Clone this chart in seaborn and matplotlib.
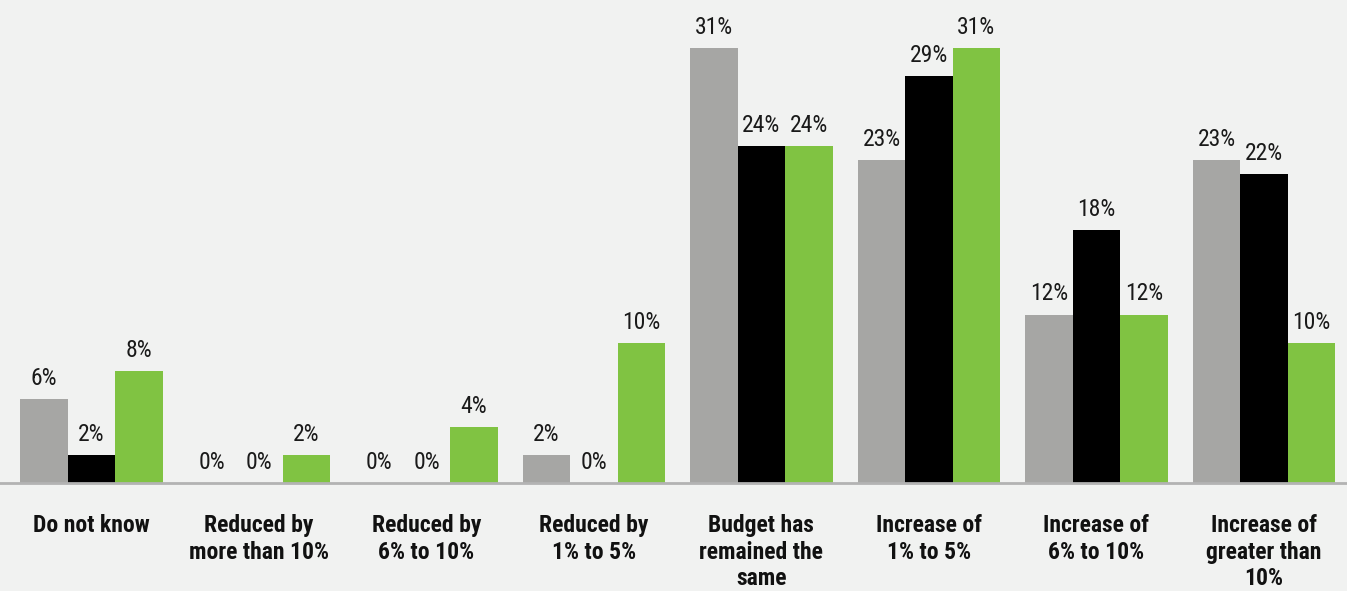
import matplotlib
matplotlib.use("Agg")
import matplotlib.pyplot as plt
import seaborn as sns
import pandas as pd

categories = [
    "Do not know",
    "Reduced by\nmore than 10%",
    "Reduced by\n6% to 10%",
    "Reduced by\n1% to 5%",
    "Budget has\nremained the\nsame",
    "Increase of\n1% to 5%",
    "Increase of\n6% to 10%",
    "Increase of\ngreater than\n10%",
]
series_names = ["Year 1", "Year 2", "Year 3"]
year1 = [6, 0, 0, 2, 31, 23, 12, 23]
year2 = [2, 0, 0, 0, 24, 29, 18, 22]
year3 = [8, 2, 4, 10, 24, 31, 12, 10]
colors = ["#a6a6a4", "#000000", "#80c342"]
bg = "#f1f2f1"

df = pd.DataFrame({
    "category": categories * 3,
    "series": [s for s in series_names for _ in categories],
    "value": year1 + year2 + year3,
})

sns.set_theme(style="white")
plt.rcParams["font.family"] = ["Roboto Condensed", "DejaVu Sans"]

fig = plt.figure(figsize=(13.47, 5.91), dpi=100, facecolor=bg)
ax = fig.add_axes([0, 0.1827, 1, 0.8173])
ax.set_facecolor(bg)

sns.barplot(data=df, x="category", y="value", hue="series", palette=colors,
            width=0.85, gap=0, saturation=1, legend=False, ax=ax, linewidth=0)

for cont in ax.containers:
    ax.bar_label(cont, fmt="%d%%", padding=6.5, fontsize=17, color="#1a1a1a")

ax.set_xlim(-0.546, 7.496)
ax.set_ylim(0, 34.4)
ax.set_xlabel("")
ax.set_ylabel("")
ax.set_yticks([])
ax.tick_params(axis="x", length=0, pad=22)
ax.set_xticks(range(len(categories)))
ax.set_xticklabels(categories, fontsize=17, fontweight="bold", color="#111111",
                   va="top", linespacing=1.22)
for s in ["top", "right", "left"]:
    ax.spines[s].set_visible(False)
ax.spines["bottom"].set_color("#b3b3b3")
ax.spines["bottom"].set_linewidth(2)

fig.savefig("out.png", dpi=100, facecolor=bg)
